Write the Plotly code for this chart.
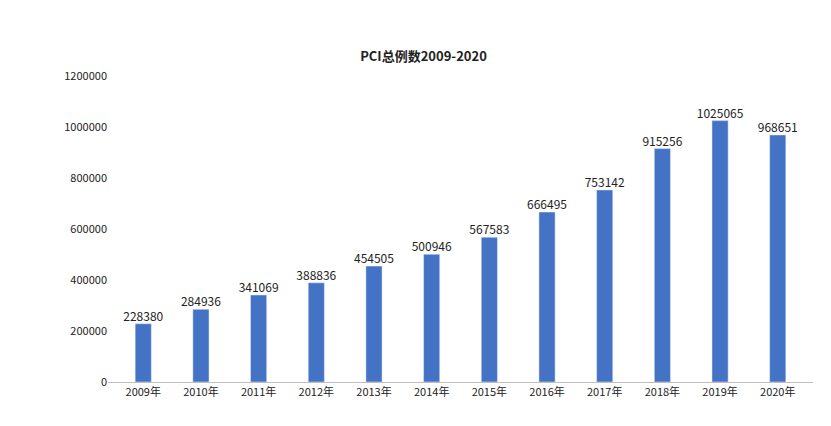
import plotly.graph_objects as go

years = ["2009年","2010年","2011年","2012年","2013年","2014年","2015年","2016年","2017年","2018年","2019年","2020年"]
values = [228380,284936,341069,388836,454505,500946,567583,666495,753142,915256,1025065,968651]
yticks = [0,200000,400000,600000,800000,1000000,1200000]

fig = go.Figure()
fig.add_trace(go.Bar(x=years, y=values, marker_color="#4472C4"))
fig.add_trace(go.Scatter(x=years, y=values, mode="text", text=[str(v) for v in values],
                         textposition="top center", textfont=dict(size=12, color="#222"),
                         cliponaxis=False, hoverinfo="skip"))
fig.update_layout(
    width=831, height=426, margin=dict(l=100, r=26, t=68, b=52),
    paper_bgcolor="white", plot_bgcolor="white",
    font=dict(family="Noto Sans CJK SC, Noto Sans", size=11, color="#222"),
    title=dict(text="<b>PCI总例数2009-2020</b>", x=0.5, xanchor="center", y=0.887, yanchor="middle",
               font=dict(size=13, color="#222")),
    bargap=0.72, showlegend=False,
)
fig.update_yaxes(range=[0,1200000], tickvals=yticks, ticktext=[str(t) for t in yticks],
                 showgrid=False, zeroline=False, showline=False, ticks="", ticklen=0)
fig.update_xaxes(showline=True, linecolor="#bfbfbf", linewidth=1, ticks="", showgrid=False)
fig.write_html("out.html")
